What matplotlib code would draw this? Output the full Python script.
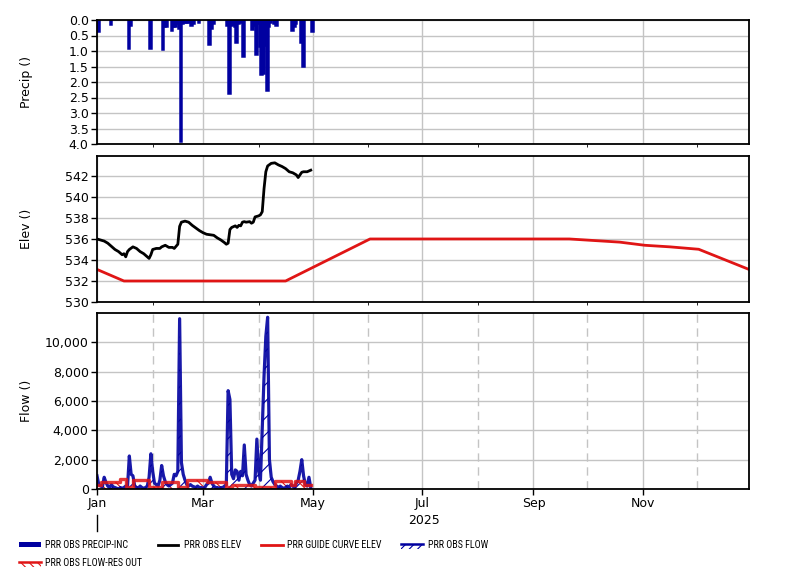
import numpy as np
import matplotlib
matplotlib.use("Agg")
import matplotlib.pyplot as plt
import matplotlib.dates as mdates
import matplotlib.ticker as mticker
import matplotlib.transforms as mtransforms
from matplotlib import font_manager as fm
from matplotlib.lines import Line2D
from matplotlib.patches import Rectangle

# ---------------- data ----------------
START = np.datetime64("2025-01-01")

# incremental precipitation (day offset from Jan 1, inches)
precip_day = [0, 7, 17, 18, 29, 36, 37, 38, 41, 42, 43, 44, 45, 46, 47, 48, 49, 50, 52, 53, 56,
              62, 63, 64, 72, 73, 74, 75, 76, 77, 78, 79, 81, 86, 87, 88, 89, 90, 91, 92, 93,
              94, 95, 96, 98, 99, 108, 109, 110, 113, 114, 119]
precip_in = [0.35, 0.12, 0.9, 0.15, 0.9, 0.95, 0.18, 0.2, 0.32, 0.2, 0.2, 0.1, 0.25, 3.9, 0.1,
             0.08, 0.05, 0.08, 0.17, 0.1, 0.08,
             0.78, 0.27, 0.1, 0.15, 2.35, 0.15, 0.12, 0.2, 0.7, 0.1, 0.08, 1.15, 0.3, 0.15, 1.1,
             0.1, 0.85, 1.75, 1.7, 0.8, 2.25, 0.2, 0.05, 0.1, 0.15, 0.33, 0.2, 0.1, 0.7, 1.48, 0.35]

# observed pool elevation (day offset, ft)
elev_day = [0, 2, 4, 6, 8, 10, 12, 14, 15, 16, 17, 18, 20, 22, 24, 26, 28, 29, 30, 31, 33, 35,
            36, 38, 40, 42, 43, 44, 45, 46, 47, 49, 51, 53, 55, 57, 59, 61, 63, 65, 67, 69, 71,
            72, 73, 74, 75, 77, 78, 79, 80, 81, 82, 83, 85, 86, 87, 88, 90, 91, 92, 93, 94, 95,
            97, 99, 101, 103, 105, 107, 109, 111, 112, 113, 114, 115, 117, 119]
elev_ft = [536.0, 535.9, 535.8, 535.6, 535.3, 535.0, 534.8, 534.5, 534.6, 534.3, 534.8, 535.0,
           535.25, 535.1, 534.8, 534.6, 534.3, 534.15, 534.5, 535.0, 535.1, 535.1,
           535.25, 535.4, 535.2, 535.2, 535.1, 535.3, 535.5, 537.2, 537.6, 537.7, 537.6,
           537.3, 537.05, 536.8, 536.6, 536.45, 536.4, 536.35, 536.1, 535.9, 535.65,
           535.5, 535.6, 536.9, 537.1, 537.25, 537.1, 537.3, 537.25, 537.6, 537.65, 537.6,
           537.65, 537.5, 537.6, 538.1, 538.2, 538.3, 538.6, 540.8, 542.4, 542.95,
           543.2, 543.25, 543.05, 542.9, 542.7, 542.4, 542.3, 542.1, 541.85, 542.1, 542.35,
           542.4, 542.4, 542.55]

# guide curve elevation (date, ft)
guide_date = ["2025-01-01", "2025-01-16", "2025-04-16", "2025-06-02", "2025-09-21",
              "2025-10-05", "2025-10-19", "2025-11-02", "2025-11-16", "2025-12-02", "2025-12-30"]
guide_ft = [533.1, 532.0, 532.0, 536.0, 536.0, 535.85, 535.7, 535.4, 535.25, 535.02, 533.1]

# observed inflow, daily from Jan 1 (cfs)
flow_cfs = [900, 300, 200, 150, 800, 450, 200, 100, 300, 150,
            100, 50, 0, 100, 50, 100, 200, 200, 2250, 1000,
            900, 200, 100, 50, 200, 100, 50, 100, 200, 800,
            2400, 1200, 400, 300, 200, 600, 1600, 900, 500, 300,
            200, 300, 400, 1000, 900, 1200, 11600, 1800, 1000, 600,
            300, 200, 300, 200, 150, 100, 200, 100, 100, 50,
            100, 300, 400, 800, 400, 200, 100, 100, 50, 100,
            100, 200, 300, 6700, 6100, 1000, 700, 1300, 1200, 600,
            1200, 900, 3000, 1000, 600, 300, 200, 400, 600, 3400,
            1200, 600, 4100, 7700, 10400, 11700, 2000, 800, 500, 300,
            200, 100, 200, 100, 50, 100, 200, 100, 300, 200,
            100, 400, 600, 1200, 2000, 900, 300, 200, 800, 100]

# reservoir outflow, step changes (day offset, cfs)
release_day = [0, 2, 13, 16, 20, 29, 36, 45, 50, 61, 72, 75, 88, 99, 108, 110, 115, 119]
release_cfs = [270, 500, 660, 160, 610, 160, 500, 160, 610, 500, 160, 270, 160, 545, 270, 545,
               270, 270]

month_labels = ["Jan", "Mar", "May", "Jul", "Sep", "Nov"]
year_label = "2025"

# ---------------- style ----------------
BLUE = "#0000A0"
RED = "#E01515"
GRID = "#C4C4C4"
plt.rcParams["font.family"] = ["DejaVu Sans"]
plt.rcParams["hatch.linewidth"] = 0.8


def narrow_font():
    for want in ("Liberation Sans Narrow", "Roboto Condensed", "Open Sans Condensed"):
        for f in fm.fontManager.ttflist:
            if f.name == want and f.style == "normal" and "Bold" not in f.fname \
                    and "Italic" not in f.fname:
                return fm.FontProperties(fname=f.fname, size=7.2)
    for f in fm.fontManager.ttflist:
        if f.name == "DejaVu Sans" and "Condensed" in f.fname and "Bold" not in f.fname \
                and "Oblique" not in f.fname:
            return fm.FontProperties(fname=f.fname, size=7)
    return fm.FontProperties(family="DejaVu Sans", size=6.5)


def todate(days):
    return START + np.asarray(days).astype("timedelta64[D]")


W_PX, H_PX = 801, 580
fig = plt.figure(figsize=(W_PX / 100, H_PX / 100), dpi=100)


def axes_px(left, top, right, bottom, **kw):
    return fig.add_axes([left / W_PX, 1 - bottom / H_PX, (right - left) / W_PX,
                         (bottom - top) / H_PX], **kw)


ax1 = axes_px(97, 20, 749, 144)
ax2 = axes_px(97, 156, 749, 302, sharex=ax1)
ax3 = axes_px(97, 313, 749, 489, sharex=ax1)

xmin = np.datetime64("2025-01-01")
xmax = np.datetime64("2025-12-30")

for ax in (ax1, ax2, ax3):
    for sp in ax.spines.values():
        sp.set_color("black")
        sp.set_linewidth(1.3)
    ax.xaxis.set_major_locator(mdates.MonthLocator(bymonth=[1, 3, 5, 7, 9, 11]))
    ax.grid(True, which="major", color=GRID, linewidth=1.0)
    ax.set_axisbelow(True)
    ax.tick_params(axis="y", which="major", direction="out", length=4, width=1,
                   labelsize=9, pad=2, right=False)
    ax.yaxis.set_label_coords((33 - 97) / 652, 0.5)

# --- precip ---
ax1.bar(todate(precip_day), precip_in, width=1.0, align="edge", color=BLUE,
        edgecolor=BLUE, linewidth=1.8)
ax1.set_ylim(4.0, 0.0)
ax1.set_yticks(np.arange(0, 4.01, 0.5))
ax1.yaxis.set_major_formatter(mticker.FormatStrFormatter("%.1f"))
ax1.set_ylabel("Precip ()", fontsize=9)
ax1.tick_params(axis="x", length=0, labelbottom=False)

# --- elevation ---
ax2.plot(todate(elev_day), elev_ft, color="black", linewidth=2.0)
ax2.plot(np.array(guide_date, dtype="datetime64[D]"), guide_ft, color=RED, linewidth=2.0)
ax2.set_ylim(530, 543.9)
ax2.set_yticks(np.arange(530, 543, 2))
ax2.set_ylabel("Elev ()", fontsize=9)
ax2.tick_params(axis="x", length=0, labelbottom=False)

# --- flow ---
fdates = todate(np.arange(len(flow_cfs)))
ax3.fill_between(fdates, flow_cfs, 0, facecolor="none", edgecolor=BLUE, hatch="//",
                 linewidth=0)
ax3.plot(fdates, flow_cfs, color=BLUE, linewidth=2.3, alpha=0.9)
rdates = todate(release_day)
ax3.fill_between(rdates, release_cfs, 0, step="post", facecolor="none", edgecolor=RED,
                 hatch="\\\\", linewidth=0)
ax3.step(rdates, release_cfs, where="post", color=RED, linewidth=2.4, alpha=0.85)
ax3.set_ylim(0, 11990)
ax3.set_yticks(np.arange(0, 10001, 2000))
ax3.yaxis.set_major_formatter(mticker.StrMethodFormatter("{x:,.0f}"))
ax3.set_ylabel("Flow ()", fontsize=9)
ax3.xaxis.set_minor_locator(mdates.MonthLocator(bymonth=[2, 4, 6, 8, 10, 12]))
ax3.grid(True, which="minor", axis="x", color=GRID, linewidth=1.0, linestyle=(0, (6, 4)))
ax3.xaxis.set_major_formatter(mticker.FixedFormatter(month_labels))
ax3.tick_params(axis="x", which="major", length=4, width=1, labelsize=9, pad=2)
ax3.tick_params(axis="x", which="minor", length=0)
ax3.set_xlim(xmin, xmax)

# year row
trans = mtransforms.blended_transform_factory(ax3.transData, ax3.transAxes)
ax3.text(np.datetime64("2025-07-02"), (489 - 521) / 176, year_label, transform=trans,
         ha="center", va="center", fontsize=9)
ax3.add_line(Line2D([xmin, xmin], [(489 - 515) / 176, (489 - 531) / 176], transform=trans,
                    color="black", linewidth=1.0, clip_on=False))

# ---------------- legend (figure level) ----------------
lf = narrow_font()


def fx(px):
    return px / W_PX


def fy(py):
    return 1 - py / H_PX


def leg_text(x, y, s):
    fig.text(fx(x), fy(y), s, fontproperties=lf, ha="left", va="center")


# precip
fig.add_artist(Rectangle((fx(19), fy(547)), fx(41) - fx(19), fy(542) - fy(547),
                         transform=fig.transFigure, facecolor=BLUE, edgecolor="none"))
leg_text(45, 545, "PRR OBS PRECIP-INC")
# elev
fig.add_artist(Line2D([fx(158), fx(178)], [fy(545), fy(545)], transform=fig.transFigure,
                      color="black", linewidth=2))
leg_text(184, 545, "PRR OBS ELEV")
# guide curve
fig.add_artist(Line2D([fx(261), fx(283)], [fy(545), fy(545)], transform=fig.transFigure,
                      color=RED, linewidth=2))
leg_text(287, 545, "PRR GUIDE CURVE ELEV")
# flow
fig.add_artist(Rectangle((fx(401), fy(549)), fx(423) - fx(401), fy(544) - fy(549),
                         transform=fig.transFigure, facecolor="none", edgecolor=BLUE,
                         hatch="////", linewidth=0))
fig.add_artist(Line2D([fx(401), fx(423)], [fy(544), fy(544)], transform=fig.transFigure,
                      color=BLUE, linewidth=1.8))
leg_text(428, 545, "PRR OBS FLOW")
# flow res out
fig.add_artist(Rectangle((fx(19), fy(567)), fx(41) - fx(19), fy(562) - fy(567),
                         transform=fig.transFigure, facecolor="none", edgecolor=RED,
                         hatch="\\\\\\\\", linewidth=0))
fig.add_artist(Line2D([fx(19), fx(41)], [fy(562), fy(562)], transform=fig.transFigure,
                      color=RED, linewidth=1.8))
leg_text(45, 563, "PRR OBS FLOW-RES OUT")

fig.savefig("out.png", dpi=100)
